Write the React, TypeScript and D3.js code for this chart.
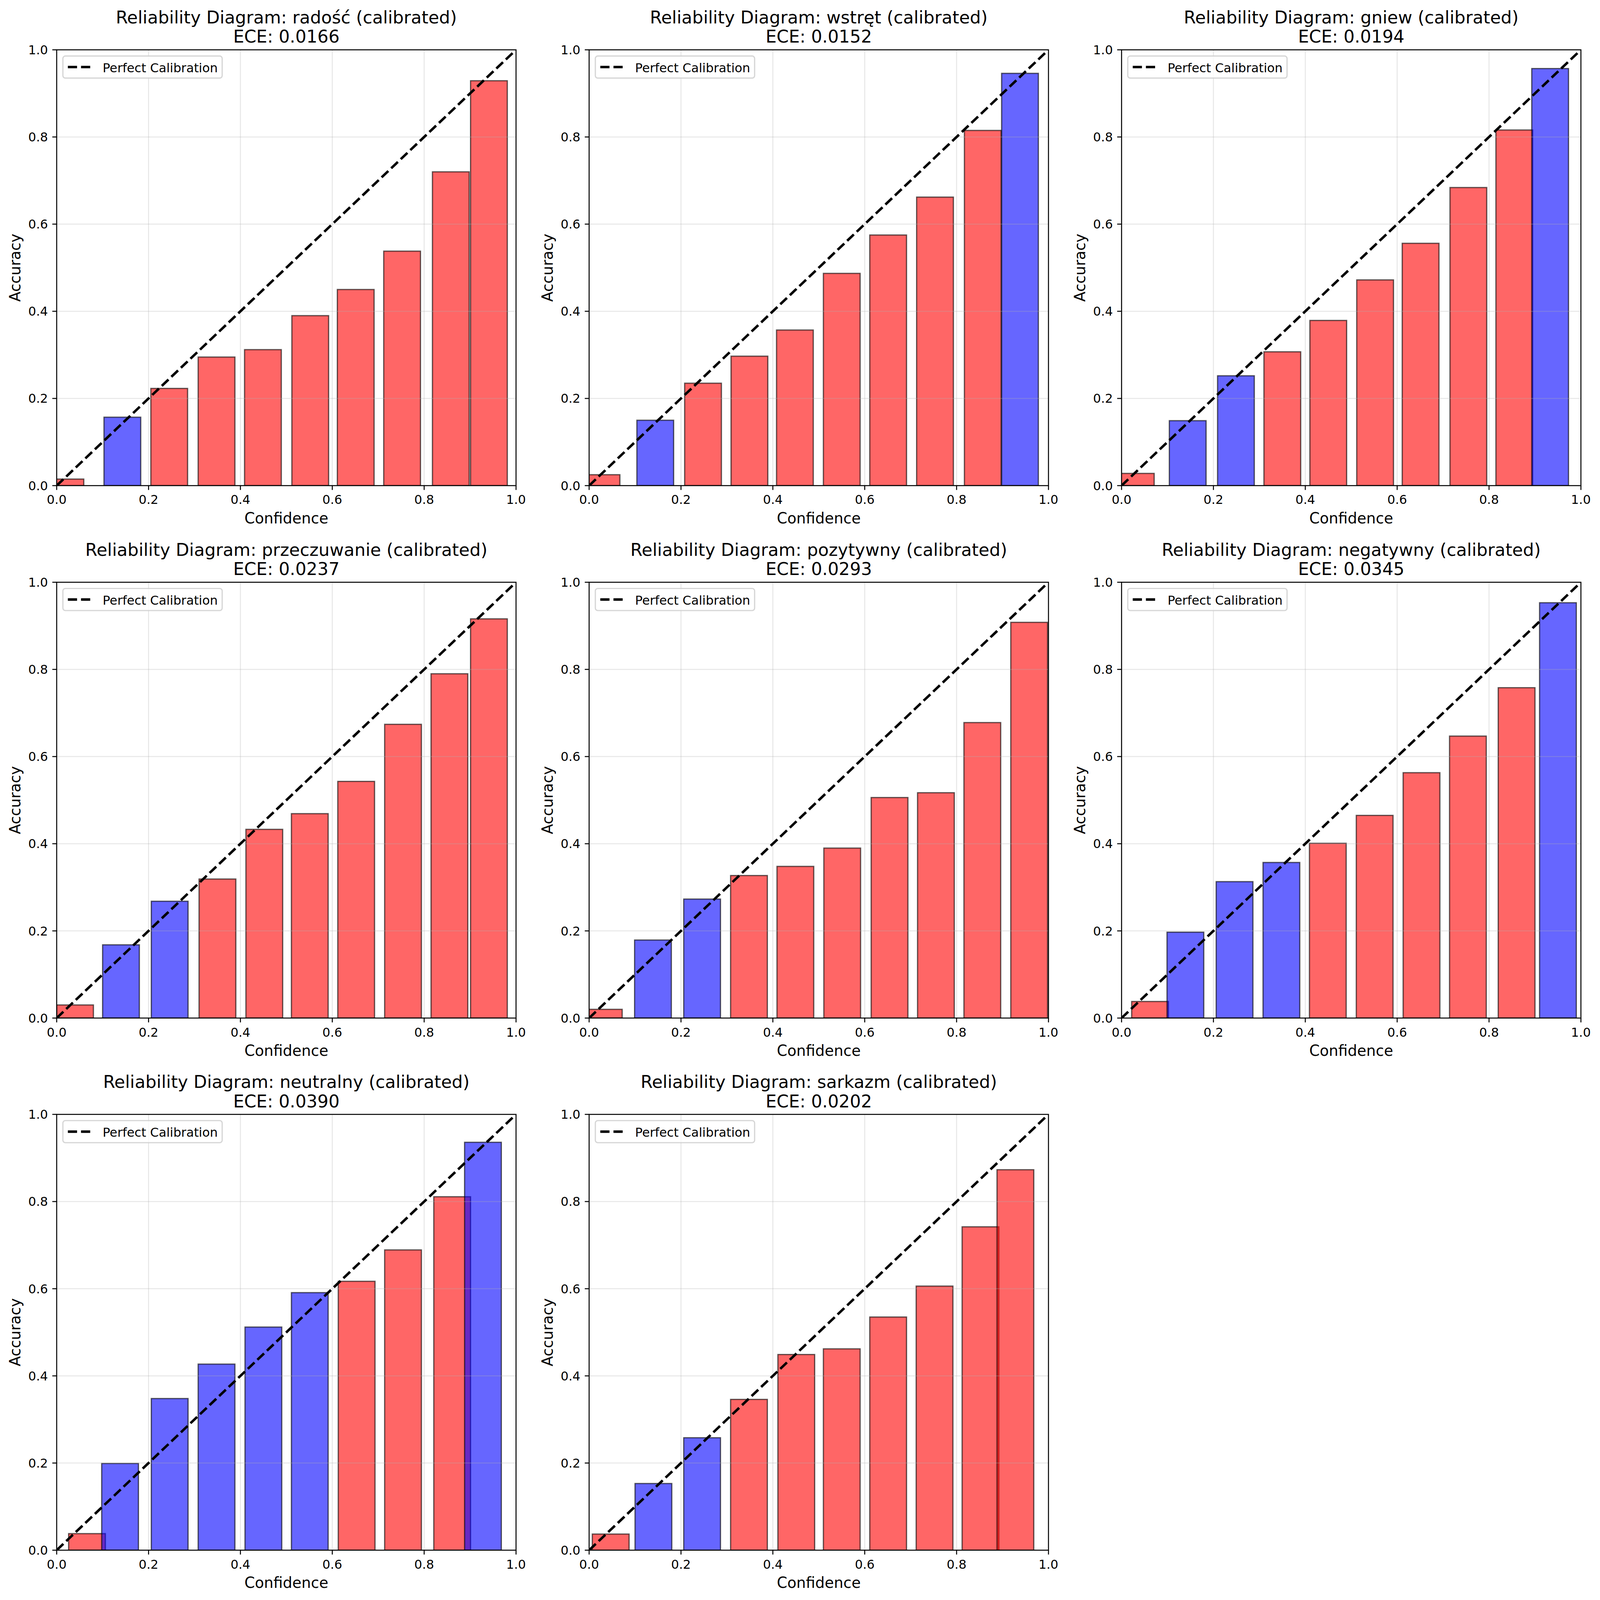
import React from "react";
import * as d3 from "d3";

// ---------- data ----------
const categories = ["radość", "wstręt", "gniew", "przeczuwanie", "pozytywny", "negatywny", "neutralny", "sarkazm"];
const eceValues = ["0.0166", "0.0152", "0.0194", "0.0237", "0.0293", "0.0345", "0.0390", "0.0202"];

const radoscConf = [0.019, 0.143, 0.245, 0.348, 0.449, 0.552, 0.651, 0.752, 0.858, 0.941];
const radoscAcc = [0.015, 0.157, 0.223, 0.295, 0.312, 0.39, 0.45, 0.538, 0.72, 0.929];
const wstretConf = [0.027, 0.144, 0.248, 0.349, 0.448, 0.55, 0.651, 0.753, 0.857, 0.938];
const wstretAcc = [0.025, 0.15, 0.235, 0.297, 0.357, 0.487, 0.575, 0.662, 0.815, 0.946];
const gniewConf = [0.031, 0.144, 0.249, 0.35, 0.45, 0.552, 0.651, 0.755, 0.855, 0.933];
const gniewAcc = [0.028, 0.149, 0.252, 0.307, 0.379, 0.472, 0.556, 0.684, 0.816, 0.957];
const przeczuwanieConf = [0.04, 0.14, 0.246, 0.35, 0.452, 0.551, 0.652, 0.754, 0.855, 0.941];
const przeczuwanieAcc = [0.03, 0.168, 0.268, 0.319, 0.433, 0.469, 0.543, 0.674, 0.79, 0.916];
const pozytywnyConf = [0.032, 0.139, 0.246, 0.348, 0.449, 0.551, 0.654, 0.755, 0.856, 0.958];
const pozytywnyAcc = [0.02, 0.179, 0.273, 0.327, 0.348, 0.39, 0.506, 0.517, 0.678, 0.908];
const negatywnyConf = [0.062, 0.139, 0.246, 0.348, 0.449, 0.551, 0.653, 0.754, 0.86, 0.95];
const negatywnyAcc = [0.038, 0.197, 0.313, 0.357, 0.401, 0.465, 0.563, 0.647, 0.758, 0.953];
const neutralnyConf = [0.066, 0.138, 0.246, 0.348, 0.45, 0.551, 0.653, 0.754, 0.861, 0.928];
const neutralnyAcc = [0.038, 0.199, 0.348, 0.427, 0.512, 0.591, 0.617, 0.689, 0.811, 0.936];
const sarkazmConf = [0.047, 0.14, 0.246, 0.348, 0.451, 0.55, 0.651, 0.752, 0.852, 0.928];
const sarkazmAcc = [0.037, 0.153, 0.258, 0.346, 0.449, 0.462, 0.535, 0.606, 0.742, 0.873];

const confidences = [radoscConf, wstretConf, gniewConf, przeczuwanieConf, pozytywnyConf, negatywnyConf, neutralnyConf, sarkazmConf];
const accuracies = [radoscAcc, wstretAcc, gniewAcc, przeczuwanieAcc, pozytywnyAcc, negatywnyAcc, neutralnyAcc, sarkazmAcc];

const tickValues = [0, 0.2, 0.4, 0.6, 0.8, 1.0];
const BAR_WIDTH = 0.08;

// ---------- layout ----------
const FIG_W = 5364;
const FIG_H = 5363;
const COL_LEFT = [190, 1975, 3760];
const ROW_TOP = [167, 1952, 3736];
const AX_W = 1540;
const AX_H = 1461;
const PT = 300 / 72;
const FONT = "DejaVu Sans, Verdana, sans-serif";

function Panel({ idx }: { idx: number }) {
  const left = COL_LEFT[idx % 3];
  const top = ROW_TOP[Math.floor(idx / 3)];
  const x = d3.scaleLinear().domain([0, 1]).range([0, AX_W]);
  const y = d3.scaleLinear().domain([0, 1]).range([AX_H, 0]);
  const conf = confidences[idx];
  const acc = accuracies[idx];
  const clipId = `clip-${idx}`;
  const tickLen = 3.5 * PT;
  const tickPad = 3.5 * PT;
  const lw = 0.8 * PT;
  const fmt = d3.format(".1f");
  const line = d3.line<[number, number]>().x((d) => x(d[0])).y((d) => y(d[1]));

  return (
    <g transform={`translate(${left},${top})`}>
      <defs>
        <clipPath id={clipId}>
          <rect x={0} y={0} width={AX_W} height={AX_H} />
        </clipPath>
      </defs>
      <rect x={0} y={0} width={AX_W} height={AX_H} fill="#ffffff" />
      <g clipPath={`url(#${clipId})`}>
        {conf.map((c, i) => {
          const a = acc[i];
          const color = a >= c ? "#0000ff" : "#ff0000";
          const x0 = x(c - BAR_WIDTH / 2);
          const x1 = x(c + BAR_WIDTH / 2);
          return (
            <rect
              key={i}
              x={x0}
              y={y(a)}
              width={x1 - x0}
              height={y(0) - y(a)}
              fill={color}
              fillOpacity={0.6}
              stroke="#000000"
              strokeOpacity={0.6}
              strokeWidth={1.0 * PT}
            />
          );
        })}
        {tickValues.map((t) => (
          <line key={`gx${t}`} x1={x(t)} x2={x(t)} y1={0} y2={AX_H} stroke="#b0b0b0" strokeOpacity={0.3} strokeWidth={lw} />
        ))}
        {tickValues.map((t) => (
          <line key={`gy${t}`} x1={0} x2={AX_W} y1={y(t)} y2={y(t)} stroke="#b0b0b0" strokeOpacity={0.3} strokeWidth={lw} />
        ))}
        <path
          d={line([[0, 0], [1, 1]]) || ""}
          fill="none"
          stroke="#000000"
          strokeWidth={2 * PT}
          strokeDasharray={`${3.7 * 2 * PT} ${1.6 * 2 * PT}`}
        />
      </g>
      {/* spines */}
      <rect x={0} y={0} width={AX_W} height={AX_H} fill="none" stroke="#000000" strokeWidth={lw} />
      {/* x ticks */}
      {tickValues.map((t) => (
        <g key={`xt${t}`}>
          <line x1={x(t)} x2={x(t)} y1={AX_H} y2={AX_H + tickLen} stroke="#000" strokeWidth={lw} />
          <text x={x(t)} y={AX_H + 62} textAnchor="middle" fontSize={10 * PT} fontFamily={FONT} fill="#000">
            {fmt(t)}
          </text>
        </g>
      ))}
      {/* y ticks */}
      {tickValues.map((t) => (
        <g key={`yt${t}`}>
          <line x1={-tickLen} x2={0} y1={y(t)} y2={y(t)} stroke="#000" strokeWidth={lw} />
          <text x={-tickLen - tickPad} y={y(t) + 15} textAnchor="end" fontSize={10 * PT} fontFamily={FONT} fill="#000">
            {fmt(t)}
          </text>
        </g>
      ))}
      {/* axis labels */}
      <text x={AX_W / 2} y={AX_H + 127} textAnchor="middle" fontSize={12 * PT} fontFamily={FONT} fill="#000">
        Confidence
      </text>
      <text transform={`translate(${-122},${AX_H / 2}) rotate(-90)`} textAnchor="middle" fontSize={12 * PT} fontFamily={FONT} fill="#000">
        Accuracy
      </text>
      {/* title */}
      <text x={AX_W / 2} y={-89} textAnchor="middle" fontSize={14 * PT} fontFamily={FONT} fill="#000">
        {`Reliability Diagram: ${categories[idx]} (calibrated)`}
      </text>
      <text x={AX_W / 2} y={-24} textAnchor="middle" fontSize={14 * PT} fontFamily={FONT} fill="#000">
        {`ECE: ${eceValues[idx]}`}
      </text>
      {/* legend */}
      <g transform={`translate(${0.5 * 10 * PT},${0.5 * 10 * PT})`}>
        <rect x={0} y={0} width={534} height={74} rx={0.2 * 10 * PT} ry={0.2 * 10 * PT} fill="#ffffff" fillOpacity={0.8} stroke="#cccccc" strokeOpacity={0.8} strokeWidth={1.0 * PT} />
        <line
          x1={0.4 * 10 * PT}
          x2={0.4 * 10 * PT + 2 * 10 * PT}
          y1={37}
          y2={37}
          stroke="#000"
          strokeWidth={2 * PT}
          strokeDasharray={`${3.7 * 2 * PT} ${1.6 * 2 * PT}`}
        />
        <text x={0.4 * 10 * PT + 2.8 * 10 * PT} y={54} fontSize={10 * PT} fontFamily={FONT} fill="#000">
          Perfect Calibration
        </text>
      </g>
    </g>
  );
}

export default function App() {
  return (
    <svg
      width="100vw"
      height="100vh"
      viewBox={`0 0 ${FIG_W} ${FIG_H}`}
      preserveAspectRatio="xMinYMin meet"
      style={{ position: "fixed", left: 0, top: 0, display: "block", background: "#fff" }}
    >
      <rect x={0} y={0} width={FIG_W} height={FIG_H} fill="#ffffff" />
      {categories.map((_, i) => (
        <Panel key={i} idx={i} />
      ))}
    </svg>
  );
}
